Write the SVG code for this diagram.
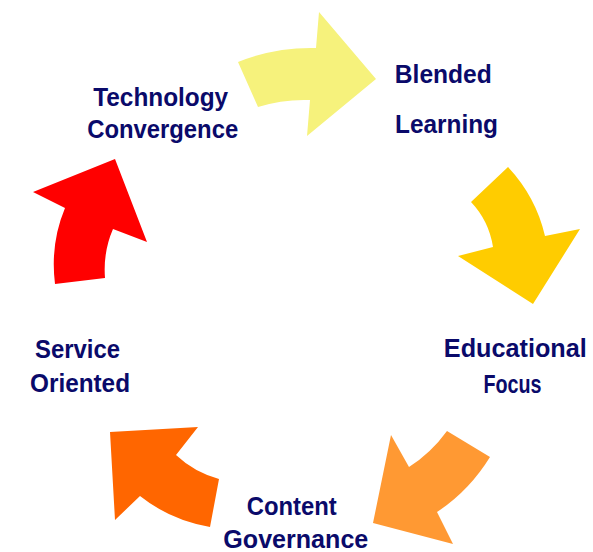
<svg xmlns="http://www.w3.org/2000/svg" width="593" height="552" viewBox="0 0 593 552">
<style>
  .lbl { font-family: "Liberation Sans", Arial, sans-serif; font-weight: bold; font-size: 25px; fill: #0a0a6a; text-anchor: middle; }
</style>
<rect width="593" height="552" fill="#ffffff"/>
<g id="connectors">
  <path id="arrow-yellow" fill="#F6F27C" d="M238,62 Q275,47 316,48 L319,12 L376,79 L307,136 L310,100 Q283,99 258,107 Z"/>
  <path id="arrow-gold" fill="#FFCC00" d="M508,167 L471,202 Q489,221 493,247 L458,256 L533,304 L580,229 L545,236 Q536,197 508,167 Z"/>
  <path id="arrow-lightorange" fill="#FF9933" d="M447,431 L490,457 Q469,491 437,512 L453,544 L373,523 L391,435 L409,467 Q431,453 447,431 Z"/>
  <path id="arrow-darkorange" fill="#FF6600" d="M110,432 L198,427 L176,455 Q194,472 219,479 L210,527 Q170,520 140,496 L115,520 Z"/>
  <path id="arrow-red" fill="#FF0000" d="M115,159 L147,242 L113,229 Q103,252 105,278 L55,284 Q50,244 65,208 L33,192 Z"/>
</g>
<g id="node-technology-convergence">
  <text class="lbl" x="160.7" y="106" textLength="135" lengthAdjust="spacingAndGlyphs">Technology</text>
  <text class="lbl" x="162.7" y="138" textLength="151" lengthAdjust="spacingAndGlyphs">Convergence</text>
</g>
<g id="node-blended-learning">
  <text class="lbl" x="443.3" y="83" textLength="97" lengthAdjust="spacingAndGlyphs">Blended</text>
  <text class="lbl" x="446.5" y="133" textLength="103" lengthAdjust="spacingAndGlyphs">Learning</text>
</g>
<g id="node-educational-focus">
  <text class="lbl" x="515.3" y="356.5" textLength="143" lengthAdjust="spacingAndGlyphs">Educational</text>
  <text class="lbl" x="512.5" y="393" textLength="58" lengthAdjust="spacingAndGlyphs">Focus</text>
</g>
<g id="node-content-governance">
  <text class="lbl" x="291.7" y="515" textLength="90" lengthAdjust="spacingAndGlyphs">Content</text>
  <text class="lbl" x="295.8" y="548" textLength="145" lengthAdjust="spacingAndGlyphs">Governance</text>
</g>
<g id="node-service-oriented">
  <text class="lbl" x="77.5" y="358" textLength="85" lengthAdjust="spacingAndGlyphs">Service</text>
  <text class="lbl" x="80" y="391.5" textLength="100" lengthAdjust="spacingAndGlyphs">Oriented</text>
</g>
</svg>
